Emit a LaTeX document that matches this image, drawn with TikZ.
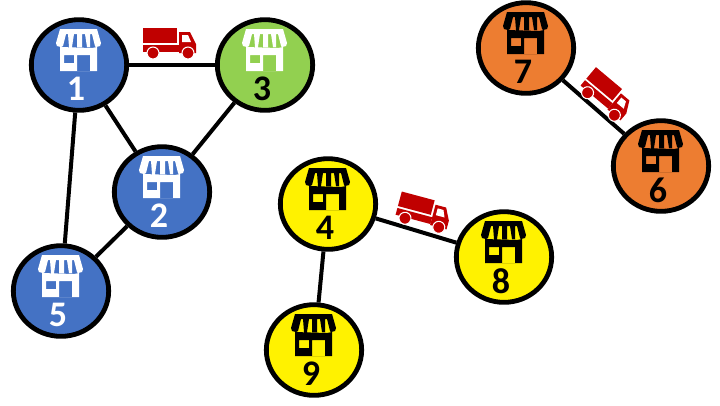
\documentclass[tikz,border=0pt]{standalone}
\usepackage{fontspec}
\setmainfont{Carlito}
\usetikzlibrary{shapes.geometric}

\definecolor{shopblue}{HTML}{4472C4}
\definecolor{shopgreen}{HTML}{92D050}
\definecolor{shoporange}{HTML}{ED7D31}
\definecolor{truckred}{HTML}{C00000}

\tikzset{
	shop/.style={ellipse, draw=black, line width=3.6pt, minimum width=71.5pt, minimum height=68pt, inner sep=0pt},
	numtext/.style={font=\bfseries\fontsize{27}{27}\selectfont, inner sep=0pt, yshift=-18pt, xshift=-2.2pt},
	road/.style={line width=3pt, black},
	store/.pic={
		\path[pic actions, even odd rule] (-19, -36) -- (18, -36) -- (22, -22) -- (21, -19) -- (17, -18) -- (16, -19) -- (13, -31) -- (11, -31) -- (11, -18) -- (8, -18) -- (6, -31) -- (3, -31) -- (3, -18) -- (-2, -18) -- (-2, -31) -- (-5, -31) -- (-7, -18) -- (-10, -18) -- (-11, -31) -- (-13, -31) -- (-16, -19) -- (-18, -18) -- (-22, -19) -- (-23, -22) -- cycle
			(-19, -18) -- (-19, 6) -- (18, 6) -- (18, -18) -- (13, -17) -- (11, -10) -- (11, 6) -- (-2, 6) -- (-2, -10) -- (11, -10) -- (13, -17) -- cycle
			(-15, -10) rectangle (-5, -2);
	},
	truck/.pic={
		\fill[truckred] (-27, -15) rectangle (7, 0);
		\fill[truckred] (-27, 2) rectangle (9, 9);
		\fill[truckred] (9, -11) -- (20, -11) -- (26, 1) -- (26, 10) -- (9, 10) -- cycle;
		\fill[white] (12, -8) -- (18, -8) -- (21, -1) -- (12, -1) -- cycle;
		\fill[truckred, draw=white, line width=0.8pt] (-17, 10) circle (6);
		\fill[truckred, draw=white, line width=0.8pt] (18, 10) circle (6);
	},
}

\begin{document}
\begin{tikzpicture}[x=0.75pt, y=-0.75pt]

	\fill[white] (0, 0) rectangle (720, 405);
	\useasboundingbox (0, 0) rectangle (720, 405);

	\node[shop, fill=shopblue] (n1) at (79, 65) {};
	\node[shop, fill=shopblue] (n2) at (162, 192) {};
	\node[shop, fill=shopgreen] (n3) at (265, 65) {};
	\node[shop, fill=shopblue] (n5) at (61, 291) {};
	\node[shop, fill=yellow] (n4) at (328, 204) {};
	\node[shop, fill=yellow] (n8) at (504, 257) {};
	\node[shop, fill=yellow] (n9) at (314, 350) {};
	\node[shop, fill=shoporange] (n7) at (526, 48) {};
	\node[shop, fill=shoporange] (n6) at (661, 166) {};

	\draw[road] (n1) -- (n3);
	\draw[road] (n1) -- (n2);
	\draw[road] (n1) -- (n5);
	\draw[road] (n2) -- (n3);
	\draw[road] (n2) -- (n5);
	\draw[road] (n4) -- (n8);
	\draw[road] (n4) -- (n9);
	\draw[road] (n7) -- (n6);

	\pic[fill=white] at (n1) {store};
	\pic[fill=white] at (n2) {store};
	\pic[fill=white] at (n3) {store};
	\pic[fill=white] at (n5) {store};
	\pic[fill=black] at (n4) {store};
	\pic[fill=black] at (n8) {store};
	\pic[fill=black] at (n9) {store};
	\pic[fill=black] at (n7) {store};
	\pic[fill=black] at (n6) {store};

	\node[numtext, white] (t1) at (n1) {1};
	\node[numtext, white] (t2) at (n2) {2};
	\node[numtext, black] (t3) at (n3) {3};
	\node[numtext, white] (t5) at (n5) {5};
	\node[numtext, black] (t4) at (n4) {4};
	\node[numtext, black] (t8) at (n8) {8};
	\node[numtext, black] (t9) at (n9) {9};
	\node[numtext, black] (t7) at (n7) {7};
	\node[numtext, black] (t6) at (n6) {6};

	\pic at (170, 43) {truck};
	\pic[rotate=-15] at (424, 213) {truck};
	\pic[rotate=-40] at (607, 96) {truck};

\end{tikzpicture}
\end{document}
